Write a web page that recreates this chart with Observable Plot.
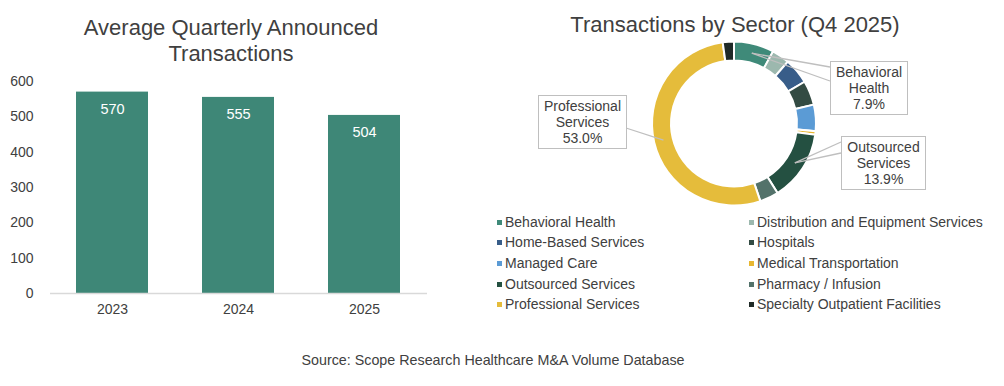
<!DOCTYPE html>
<html>
<head>
<meta charset="utf-8">
<script src="https://cdn.jsdelivr.net/npm/d3@7"></script>
<script src="https://cdn.jsdelivr.net/npm/@observablehq/plot@0.6"></script>
<style>
  html, body { margin: 0; padding: 0; background: #fff; }
  #wrap { position: relative; width: 1004px; height: 386px; overflow: hidden;
          font-family: "Liberation Sans", Arial, sans-serif; color: #404040; }
  .abs { position: absolute; }
  .title { position: absolute; text-align: center; font-size: 22px; line-height: 26px; color: #404040; white-space: nowrap; }
  .leg { position: absolute; font-size: 14px; line-height: 16px; white-space: nowrap; color: #404040; }
  .leg i { position: absolute; width: 5px; height: 5px; left: -8px; top: 6px; }
  #source { position: absolute; left: 0; width: 986px; top: 352px; text-align: center; font-size: 14.3px; color: #404040; }
</style>
</head>
<body>
<div id="wrap">
  <div class="title" style="left:31px; width:400px; top:15px;">Average Quarterly Announced<br>Transactions</div>
  <div class="title" style="left:535px; width:400px; top:12px;">Transactions by Sector (Q4 2025)</div>
  <div id="bars" class="abs" style="left:0; top:0;"></div>
  <div id="donut" class="abs" style="left:484px; top:0;"></div>
  <div id="legend" class="abs" style="left:0; top:0;"></div>
  <div id="source">Source: Scope Research Healthcare M&amp;A Volume Database</div>
</div>
<script>
// ---- Data ----
const years = ["2023", "2024", "2025"];
const avgTransactions = [570, 555, 504];
const yTicks = [0, 100, 200, 300, 400, 500, 600];

const sectors = [
  "Behavioral Health", "Distribution and Equipment Services",
  "Home-Based Services", "Hospitals",
  "Managed Care", "Medical Transportation",
  "Outsourced Services", "Pharmacy / Infusion",
  "Professional Services", "Specialty Outpatient Facilities"
];
const sectorShares = [7.9, 3.5, 5.1, 4.8, 5.2, 0.7, 13.9, 3.7, 53.0, 2.2];
const sectorColors = ["#3F8A79", "#9CB8AE", "#385D89", "#334B43", "#5B9BD5",
                      "#E8B730", "#245041", "#53726A", "#E5BC3B", "#1F2A27"];
const calloutSectors = ["Behavioral Health", "Outsourced Services", "Professional Services"];
const calloutLabels = [["Behavioral", "Health"], ["Outsourced", "Services"], ["Professional", "Services"]];

const barColor = "#3E8777";

// ---- Bar chart ----
const barData = years.map((y, i) => ({year: y, value: avgTransactions[i]}));
const barPlot = Plot.plot({
  width: 430, height: 330,
  marginTop: 81, marginBottom: 37, marginLeft: 50, marginRight: 3,
  style: {fontFamily: '"Liberation Sans", Arial, sans-serif', fontSize: "14px", color: "#404040", background: "transparent"},
  x: {domain: years, paddingInner: 0.425, paddingOuter: 0.197, label: null},
  y: {domain: [0, 600], ticks: yTicks, label: null},
  marks: [
    Plot.barY(barData, {x: "year", y: "value", fill: barColor}),
    Plot.ruleY([0], {stroke: "#D9D9D9", strokeWidth: 1.5}),
    Plot.axisY({ticks: yTicks, tickSize: 0, tickPadding: 17, fontSize: 14, fill: "#404040", label: null}),
    Plot.axisX({tickSize: 0, tickPadding: 11, fontSize: 14, fill: "#404040", label: null}),
    Plot.text(barData, {x: "year", y: "value", text: d => String(d.value), dy: 17, fill: "white", fontSize: 14.5})
  ]
});
document.getElementById("bars").appendChild(barPlot);

// ---- Donut ----
const sectorData = sectors.map((s, i) => ({sector: s, share: sectorShares[i], color: sectorColors[i]}));
const donutLayout = {cx: 250, cy: 123.5, r0: 63, r1: 82};
const calloutBoxes = {
  "Behavioral Health":   {x: 346, y: 61, w: 77, h: 53, leader: [[346, 67], [346, 81]]},
  "Outsourced Services": {x: 357, y: 136, w: 84, h: 53, leader: [[357, 142], [357, 153]]},
  "Professional Services": {x: 54, y: 95, w: 88, h: 53, leader: [[142, 128]]}
};

function donutMark(index, scales, values, dimensions) {
  const {cx, cy, r0, r1} = donutLayout;
  const arcs = d3.pie().sort(null).value(d => d.share)(sectorData);
  const arc = d3.arc().innerRadius(r0).outerRadius(r1);
  const root = d3.create("svg:g");
  const g = root.append("g").attr("transform", `translate(${cx},${cy})`);
  g.selectAll("path").data(arcs).join("path")
    .attr("d", arc)
    .attr("fill", d => d.data.color)
    .attr("stroke", "white")
    .attr("stroke-width", 2)
    .attr("stroke-linejoin", "miter");

  calloutSectors.forEach((name, k) => {
    const a = arcs.find(d => d.data.sector === name);
    const [px, py] = arc.centroid(a);
    const box = calloutBoxes[name];
    box.leader.forEach(([lx, ly]) => {
      root.append("line")
        .attr("x1", cx + px).attr("y1", cy + py)
        .attr("x2", lx).attr("y2", ly)
        .attr("stroke", "#BFBFBF").attr("stroke-width", 1.3);
    });
    root.append("rect")
      .attr("x", box.x + 0.5).attr("y", box.y + 0.5)
      .attr("width", box.w).attr("height", box.h)
      .attr("fill", "white").attr("stroke", "#BFBFBF").attr("stroke-width", 1);
    const lines = [...calloutLabels[k], a.data.share.toFixed(1) + "%"];
    const mid = box.y + box.h / 2 + 0.5;
    lines.forEach((t, j) => {
      root.append("text")
        .attr("x", box.x + box.w / 2 + 0.5)
        .attr("y", mid + (j - 1) * 16)
        .attr("dy", "0.35em")
        .attr("text-anchor", "middle")
        .attr("font-size", 14)
        .attr("fill", "#404040")
        .text(t);
    });
  });
  return root.node();
}

const donutPlot = Plot.plot({
  width: 520, height: 210,
  margin: 0,
  style: {fontFamily: '"Liberation Sans", Arial, sans-serif', fontSize: "14px", color: "#404040", background: "transparent", overflow: "visible"},
  marks: [donutMark]
});
document.getElementById("donut").appendChild(donutPlot);

// ---- Legend ----
const legend = document.getElementById("legend");
const colX = [505, 757];
const rowY = [213.5, 234.2, 254.8, 275.5, 296];
sectorData.forEach((d, i) => {
  const el = document.createElement("div");
  el.className = "leg";
  el.style.left = colX[i % 2] + "px";
  el.style.top = rowY[Math.floor(i / 2)] + "px";
  const sw = document.createElement("i");
  sw.style.background = d.color;
  el.appendChild(sw);
  el.appendChild(document.createTextNode(d.sector));
  legend.appendChild(el);
});
</script>
</body>
</html>
